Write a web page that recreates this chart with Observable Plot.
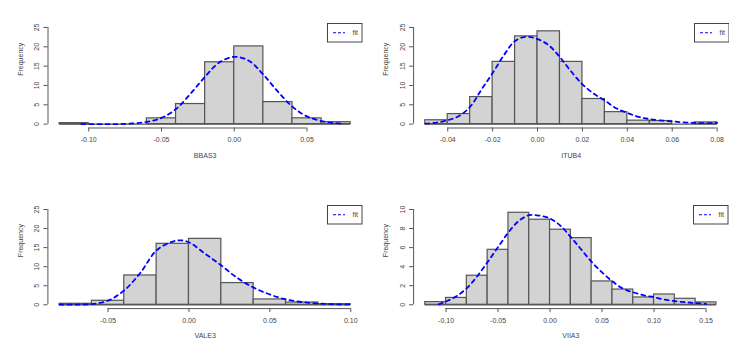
<!DOCTYPE html>
<html>
<head>
<meta charset="utf-8">
<script src="https://cdn.jsdelivr.net/npm/d3@7"></script>
<script src="https://cdn.jsdelivr.net/npm/@observablehq/plot@0.6"></script>
<style>
  body { margin: 0; background: #ffffff; }
  #wrap { position: relative; width: 749px; height: 349px; overflow: hidden; background: #fff;
          font-family: "Liberation Sans", Arial, sans-serif; }
  .panel { position: absolute; }
  .legend { position: absolute; }
</style>
</head>
<body>
<div id="wrap"></div>
<script>
// ---------------- DATA ----------------
const panelNames = ["BBAS3", "ITUB4", "VALE3", "VIIA3"];

const bbas3Breaks = [-0.12, -0.10, -0.08, -0.06, -0.04, -0.02, 0.00, 0.02, 0.04, 0.06, 0.08];
const bbas3Counts = [0.26, 0, 0, 1.5, 5.2, 16.0, 20.1, 5.7, 1.5, 0.5];
const bbas3CurveX = [-0.105, -0.09, -0.08, -0.07, -0.06, -0.05, -0.04, -0.03, -0.02, -0.01, 0.00, 0.01, 0.02, 0.03, 0.04, 0.05, 0.06, 0.07, 0.075];
const bbas3CurveY = [0, 0, 0.03, 0.17, 0.6, 1.6, 3.9, 7.9, 12.3, 16.0, 17.4, 16.4, 12.8, 8.4, 4.5, 2.0, 0.8, 0.25, 0.15];
const bbas3XTicks = [-0.10, -0.05, 0.00, 0.05];
const bbas3XLabels = ["-0.10", "-0.05", "0.00", "0.05"];

const itub4Breaks = [-0.05, -0.04, -0.03, -0.02, -0.01, 0.00, 0.01, 0.02, 0.03, 0.04, 0.05, 0.06, 0.07, 0.08];
const itub4Counts = [1.0, 2.6, 7.0, 16.1, 22.7, 24.0, 16.1, 6.5, 3.1, 0.9, 0.8, 0, 0.45];
const itub4CurveX = [-0.05, -0.045, -0.04, -0.035, -0.03, -0.025, -0.02, -0.015, -0.01, -0.005, 0.00, 0.005, 0.01, 0.015, 0.02, 0.025, 0.03, 0.035, 0.04, 0.045, 0.05, 0.06, 0.07, 0.08];
const itub4CurveY = [0.15, 0.4, 1.0, 2.1, 4.5, 8.9, 13.2, 17.8, 21.5, 22.6, 22.0, 20.4, 17.3, 13.6, 10.3, 7.9, 6.1, 4.1, 2.9, 1.9, 1.3, 0.7, 0.3, 0.3];
const itub4XTicks = [-0.04, -0.02, 0.00, 0.02, 0.04, 0.06, 0.08];
const itub4XLabels = ["-0.04", "-0.02", "0.00", "0.02", "0.04", "0.06", "0.08"];

const vale3Breaks = [-0.08, -0.06, -0.04, -0.02, 0.00, 0.02, 0.04, 0.06, 0.08, 0.10];
const vale3Counts = [0.26, 1.05, 7.7, 16.0, 17.3, 5.7, 1.4, 0.6, 0.17];
const vale3CurveX = [-0.08, -0.07, -0.06, -0.05, -0.04, -0.03, -0.02, -0.01, -0.005, 0.00, 0.01, 0.02, 0.03, 0.04, 0.05, 0.06, 0.07, 0.08, 0.09, 0.10];
const vale3CurveY = [0.02, 0.05, 0.2, 1.1, 3.8, 8.4, 14.3, 16.6, 16.9, 16.4, 13.4, 10.3, 7.0, 4.5, 2.7, 1.4, 0.7, 0.35, 0.15, 0.08];
const vale3XTicks = [-0.05, 0.00, 0.05, 0.10];
const vale3XLabels = ["-0.05", "0.00", "0.05", "0.10"];

const viia3Breaks = [-0.12, -0.10, -0.08, -0.06, -0.04, -0.02, 0.00, 0.02, 0.04, 0.06, 0.08, 0.10, 0.12, 0.14, 0.16];
const viia3Counts = [0.28, 0.72, 3.05, 5.77, 9.66, 8.93, 7.88, 7.0, 2.45, 1.6, 0.77, 1.08, 0.63, 0.25];
const viia3CurveX = [-0.107, -0.10, -0.09, -0.08, -0.07, -0.06, -0.05, -0.04, -0.03, -0.02, -0.01, 0.00, 0.01, 0.02, 0.03, 0.04, 0.05, 0.06, 0.07, 0.08, 0.09, 0.10, 0.11, 0.12, 0.13, 0.14, 0.15];
const viia3CurveY = [0.05, 0.35, 0.9, 1.75, 3.0, 4.5, 6.05, 7.6, 8.8, 9.4, 9.35, 9.05, 8.3, 7.1, 5.8, 4.5, 3.4, 2.45, 1.7, 1.3, 1.0, 0.8, 0.55, 0.38, 0.27, 0.18, 0.1];
const viia3XTicks = [-0.10, -0.05, 0.00, 0.05, 0.10, 0.15];
const viia3XLabels = ["-0.10", "-0.05", "0.00", "0.05", "0.10", "0.15"];

const freqTicks25 = [0, 5, 10, 15, 20, 25];
const freqLabels25 = ["0", "5", "10", "15", "20", "25"];
const freqTicks10 = [0, 2, 4, 6, 8, 10];
const freqLabels10 = ["0", "2", "4", "6", "8", "10"];

const yAxisTitle = "Frequency";
const legendLabel = "fit";

// ---------------- LAYOUT ----------------
const W = 374, H = 174;
const layout = [
  { left: 0,   top: 0,   xDomain: [-0.128, 0.088],   yDomain: [-1, 26],     mt: 23.1, mr: 12.2, mb: 46.5, ml: 47.5 },
  { left: 375, top: 0,   xDomain: [-0.0552, 0.0852], yDomain: [-1, 26],     mt: 23.1, mr: 20.7, mb: 46.5, ml: 38.1 },
  { left: 0,   top: 175, xDomain: [-0.0872, 0.1072], yDomain: [-1, 26],     mt: 30.2, mr: 12.1, mb: 40.9, ml: 47.4 },
  { left: 375, top: 175, xDomain: [-0.1312, 0.1712], yDomain: [-0.4, 10.4], mt: 30.2, mr: 21.4, mb: 40.9, ml: 38.1 }
];
const series = [
  { breaks: bbas3Breaks, counts: bbas3Counts, cx: bbas3CurveX, cy: bbas3CurveY, xt: bbas3XTicks, xl: bbas3XLabels, yt: freqTicks25, yl: freqLabels25 },
  { breaks: itub4Breaks, counts: itub4Counts, cx: itub4CurveX, cy: itub4CurveY, xt: itub4XTicks, xl: itub4XLabels, yt: freqTicks25, yl: freqLabels25 },
  { breaks: vale3Breaks, counts: vale3Counts, cx: vale3CurveX, cy: vale3CurveY, xt: vale3XTicks, xl: vale3XLabels, yt: freqTicks25, yl: freqLabels25 },
  { breaks: viia3Breaks, counts: viia3Counts, cx: viia3CurveX, cy: viia3CurveY, xt: viia3XTicks, xl: viia3XLabels, yt: freqTicks10, yl: freqLabels10 }
];

const TEXT = "#444";
const AXIS = "#555";
const BAR_FILL = "#d3d3d3";
const BAR_STROKE = "#555";
const FIT = "#0000ff";

const wrap = document.getElementById("wrap");

series.forEach((s, k) => {
  const L = layout[k];
  const bins = s.breaks.slice(0, -1).map((b, i) => ({ x1: b, x2: s.breaks[i + 1], y: s.counts[i] }));
  const curve = s.cx.map((x, i) => ({ x, y: s.cy[i] }));
  const xLab = new Map(s.xt.map((t, i) => [t, s.xl[i]]));
  const yTickData = s.yt.map((t, i) => ({ t, label: s.yl[i] }));

  const chart = Plot.plot({
    width: W,
    height: H,
    marginTop: L.mt,
    marginRight: L.mr,
    marginBottom: L.mb,
    marginLeft: L.ml,
    style: { fontFamily: "Liberation Sans, Arial, sans-serif", fontSize: "7px", color: TEXT, background: "transparent", overflow: "visible" },
    x: { domain: L.xDomain },
    y: { domain: L.yDomain },
    marks: [
      Plot.rect(bins, { x1: "x1", x2: "x2", y1: 0, y2: "y", fill: BAR_FILL, stroke: BAR_STROKE, strokeWidth: 1.2 }),
      Plot.ruleY([0], { x1: s.breaks[0], x2: s.breaks[s.breaks.length - 1], stroke: BAR_STROKE, strokeWidth: 1.2 }),
      Plot.line(curve, { x: "x", y: "y", stroke: FIT, strokeWidth: 1.8, strokeDasharray: "4,4", curve: "catmull-rom" }),
      // x axis (R style: line spans first to last tick)
      Plot.ruleY([L.yDomain[0]], { x1: s.xt[0], x2: s.xt[s.xt.length - 1], stroke: AXIS, strokeWidth: 1 }),
      Plot.axisX({ ticks: s.xt, tickSize: 4, tickPadding: 5, tickFormat: d => xLab.get(d), label: null, stroke: AXIS, fill: TEXT }),
      // y axis
      Plot.ruleX([L.xDomain[0]], { y1: s.yt[0], y2: s.yt[s.yt.length - 1], stroke: AXIS, strokeWidth: 1 }),
      Plot.axisY({ ticks: s.yt, tickSize: 4, tickFormat: () => "", label: null, stroke: AXIS }),
      Plot.text(yTickData, { x: L.xDomain[0], y: "t", text: "label", rotate: -90, dx: -11, fill: TEXT, textAnchor: "middle" }),
      // titles
      Plot.text([yAxisTitle], { frameAnchor: "left", rotate: -90, dx: -27.5, fill: TEXT }),
      Plot.text([panelNames[k]], { frameAnchor: "bottom", dy: 29.5, fill: TEXT })
    ]
  });

  const holder = document.createElement("div");
  holder.className = "panel";
  holder.style.left = L.left + "px";
  holder.style.top = L.top + "px";
  holder.appendChild(chart);

  // legend (topright, R style)
  const lw = 34.5, lh = 18.5;
  const lg = document.createElement("div");
  lg.className = "legend";
  lg.style.left = (W - L.mr - lw) + "px";
  lg.style.top = L.mt + "px";
  lg.innerHTML =
    `<svg width="${lw + 1}" height="${lh + 1}" style="display:block;font-family:Liberation Sans, Arial, sans-serif">
      <rect x="0.5" y="0.5" width="${lw}" height="${lh}" fill="#fff" stroke="#444" stroke-width="1"/>
      <line x1="6" x2="18" y1="${lh / 2 + 0.5}" y2="${lh / 2 + 0.5}" stroke="${FIT}" stroke-width="1" stroke-dasharray="3,2"/>
      <text x="25.5" y="${lh / 2 + 3}" font-size="7" fill="${TEXT}">${legendLabel}</text>
    </svg>`;
  holder.appendChild(lg);

  wrap.appendChild(holder);
});
</script>
</body>
</html>
